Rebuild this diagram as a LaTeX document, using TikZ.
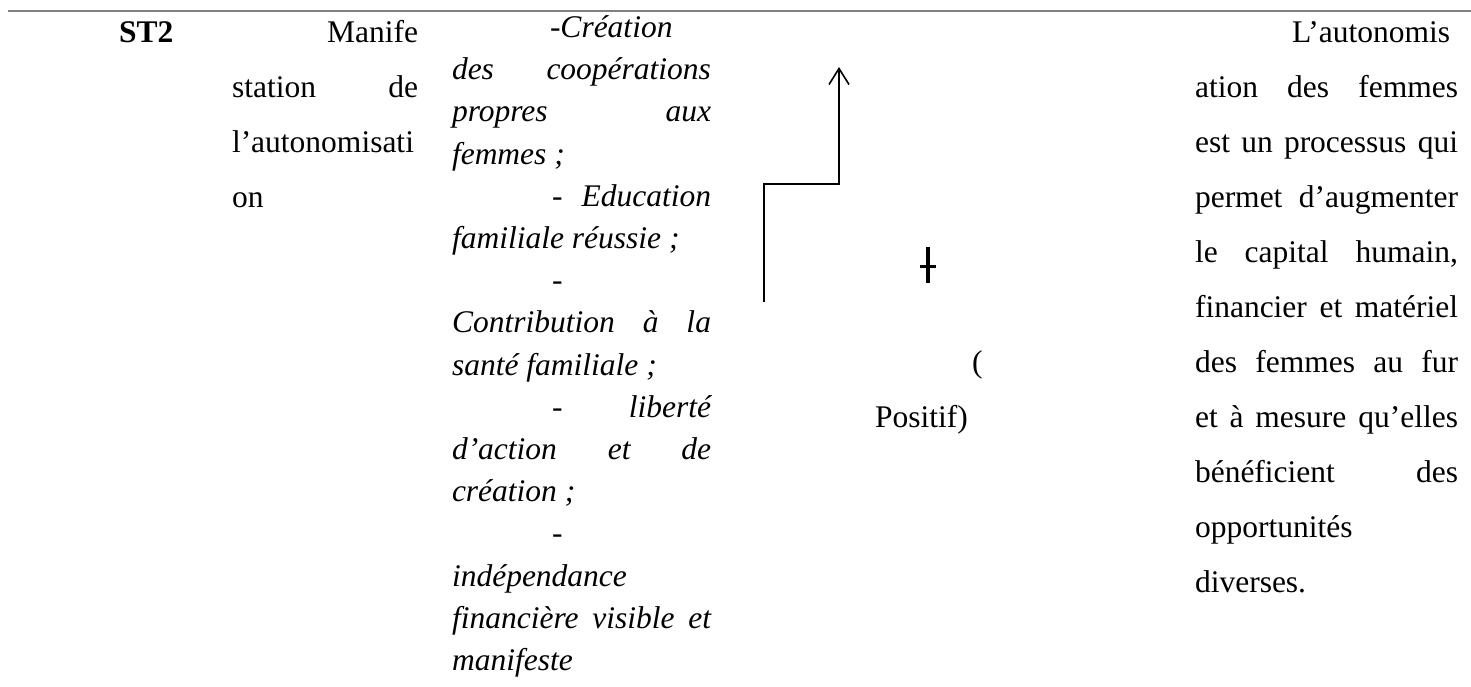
\documentclass[tikz,border=0pt]{standalone}
\usepackage{fontspec}
\setmainfont{Liberation Serif}
\usetikzlibrary{arrows.meta}
\definecolor{rulegray}{RGB}{128,128,128}
\newcommand{\jl}[2]{\hbox to #1pt{#2}}
\begin{document}
\begin{tikzpicture}[x=1pt,y=-1pt,
  txt/.style={anchor=base west,inner sep=0pt,outer sep=0pt,font=\fontsize{31.5}{38}\selectfont},
  itx/.style={txt,font=\fontsize{31.5}{38}\selectfont\itshape},
  btx/.style={txt,font=\fontsize{31.5}{38}\selectfont\bfseries},
  rtx/.style={txt,anchor=base east},
  conn/.style={line width=1.6pt,black},
  rulestyle/.style={line width=2pt,draw=rulegray},
  crossmark/.style={line width=3.5pt,black}]
\useasboundingbox (0,0) rectangle (1471,686);
% top rule
\coordinate (rl) at (8,11);
\coordinate (rr) at (1471,11);
\draw[rulestyle] (rl) -- (rr);
% column 1
\node[btx] (st) at (119,42) {ST2};
% column 2
\node[rtx] (c2a) at (418,42) {Manife};
\node[txt] (c2b) at (232,97) {\jl{186}{station\hfill de}};
\node[txt] (c2c) at (232,152) {l’autonomisati};
\node[txt] (c2d) at (232,207) {on};
% column 3
\node[itx] (c3a) at (550,37) {-Création};
\node[itx] (c3b) at (452,79) {\jl{259}{des\hfill coopérations}};
\node[itx] (c3c) at (452,121) {\jl{259}{propres\hfill aux}};
\node[itx] (c3d) at (452,164) {femmes ;};
\node[itx] (c3e) at (552,206) {\jl{159}{-\hfill Education}};
\node[itx] (c3f) at (452,248) {familiale réussie ;};
\node[itx] (c3g) at (552,290) {-};
\node[itx] (c3h) at (452,332) {\jl{259}{Contribution\hfill à\hfill la}};
\node[itx] (c3i) at (452,375) {santé familiale ;};
\node[itx] (c3j) at (552,417) {\jl{159}{-\hfill liberté}};
\node[itx] (c3k) at (452,459) {\jl{259}{d’action\hfill et\hfill de}};
\node[itx] (c3l) at (452,501) {création ;};
\node[itx] (c3m) at (552,543) {-};
\node[itx] (c3n) at (452,586) {indépendance};
\node[itx] (c3o) at (452,628) {\jl{259}{financière\hfill visible\hfill et}};
\node[itx] (c3p) at (452,670) {manifeste};
% arrow
\coordinate (a0) at (764,302);
\coordinate (a1) at (764,184);
\coordinate (a2) at (839,184);
\coordinate (a3) at (839,67);
\draw[conn,-{Straight Barb[length=16pt,width=20pt]}] (a0) -- (a1) -- (a2) -- (a3);
% cross mark
\coordinate (m1) at (928,247);
\coordinate (m2) at (928,283);
\coordinate (m3) at (920,266);
\coordinate (m4) at (936,266);
\draw[crossmark] (m1) -- (m2);
\draw[crossmark,line width=3pt] (m3) -- (m4);
% column 4
\node[txt] (c4a) at (972,372) {(};
\node[txt] (c4b) at (875,427) {Positif)};
% column 5
\node[txt] (r1) at (1292,42) {L’autonomis};
\node[txt] (r2) at (1195,97) {\jl{263}{ation\hfill des\hfill femmes}};
\node[txt] (r3) at (1195,152) {\jl{263}{est\hfill un\hfill processus\hfill qui}};
\node[txt] (r4) at (1195,207) {\jl{263}{permet\hfill d’augmenter}};
\node[txt] (r5) at (1195,262) {\jl{263}{le\hfill capital\hfill humain,}};
\node[txt] (r6) at (1195,317) {\jl{263}{financier\hfill et\hfill matériel}};
\node[txt] (r7) at (1195,372) {\jl{263}{des\hfill femmes\hfill au\hfill fur}};
\node[txt] (r8) at (1195,427) {\jl{263}{et\hfill à\hfill mesure\hfill qu’elles}};
\node[txt] (r9) at (1195,482) {\jl{263}{bénéficient\hfill des}};
\node[txt] (r10) at (1195,537) {opportunités};
\node[txt] (r11) at (1195,592) {diverses.};
\end{tikzpicture}
\end{document}
